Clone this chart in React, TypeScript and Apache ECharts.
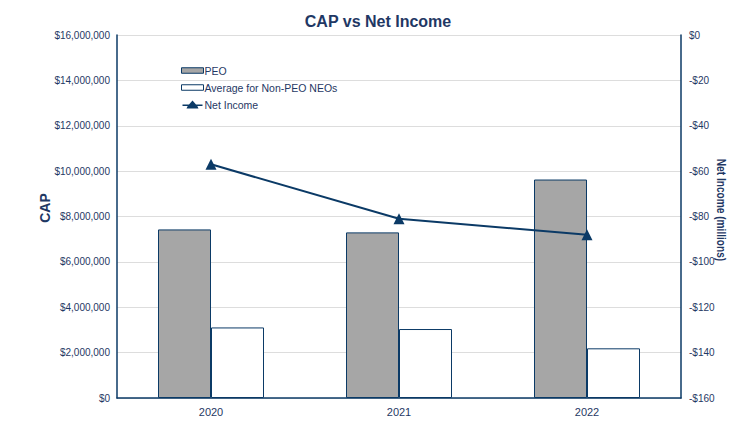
import React, { useEffect, useRef } from "react";
import * as echarts from "echarts";

const years = ["2020", "2021", "2022"];
const peoCap = [7430000, 7300000, 9630000];
const neoCap = [3110000, 3040000, 2190000];
const netIncome = [-57, -81, -88];

const NAVY = "#0B3A66";
const TEXT = "#1F3864";
const FONT = "Liberation Sans, Arial, sans-serif";

export default function App() {
  const ref = useRef<HTMLDivElement>(null);
  useEffect(() => {
    document.body.style.margin = "0";
    const chart = echarts.init(ref.current!, null, { renderer: "svg" });
    chart.setOption({
      animation: false,
      textStyle: { fontFamily: FONT },
      title: {
        text: "CAP vs Net Income",
        left: "center",
        top: 8,
        textStyle: { color: TEXT, fontSize: 16, fontWeight: "bold", fontFamily: FONT },
      },
      graphic: [
        {
          type: "text",
          x: 45,
          y: 208,
          rotation: Math.PI / 2,
          style: {
            text: "CAP",
            fill: TEXT,
            font: "bold 14px " + FONT,
            align: "center",
            verticalAlign: "middle",
          },
        },
        {
          type: "text",
          x: 722,
          y: 210,
          rotation: -Math.PI / 2,
          scaleX: 0.78,
          style: {
            text: "Net Income (millions)",
            fill: TEXT,
            font: "bold 13px " + FONT,
            align: "center",
            verticalAlign: "middle",
          },
        },
      ],
      legend: {
        orient: "vertical",
        left: 176,
        top: 60,
        itemGap: 6,
        itemWidth: 22,
        itemHeight: 8,
        textStyle: { color: TEXT, fontSize: 10.5, fontFamily: FONT, padding: [0, 0, 0, -4] },
        data: [
          {
            name: "PEO",
            icon: "path://M0,1.5 L20,1.5 L20,6.5 L0,6.5 Z",
            itemStyle: { color: "#A6A6A6", borderColor: NAVY, borderWidth: 1 },
          },
          {
            name: "Average for Non-PEO NEOs",
            icon: "path://M0,1.5 L20,1.5 L20,6.5 L0,6.5 Z",
            itemStyle: { color: "#FFFFFF", borderColor: NAVY, borderWidth: 1 },
          },
          {
            name: "Net Income",
            icon: "path://M0,4 L6.5,4 L10,0 L13.5,4 L20,4 L20,5.5 L14.8,5.5 L16,8 L4,8 L5.2,5.5 L0,5.5 Z",
            itemStyle: { color: NAVY, borderWidth: 0 },
          },
        ],
      },
      grid: { left: 117, right: 75, top: 35, bottom: 23 },
      xAxis: {
        type: "category",
        data: years,
        axisLine: { lineStyle: { color: NAVY, width: 1.5 } },
        axisTick: { show: false },
        axisLabel: { color: TEXT, fontSize: 11, margin: 8 },
      },
      yAxis: [
        {
          type: "value",
          min: 0,
          max: 16000000,
          interval: 2000000,
          axisLine: { show: true, lineStyle: { color: NAVY, width: 1.5 } },
          axisTick: { show: false },
          axisLabel: {
            color: TEXT,
            fontSize: 10,
            margin: 7,
            formatter: (v: number) => "$" + v.toLocaleString("en-US"),
          },
          splitLine: { lineStyle: { color: "#DDDDDD", width: 1 } },
        },
        {
          type: "value",
          min: -160,
          max: 0,
          interval: 20,
          axisLine: { show: true, lineStyle: { color: NAVY, width: 1.5 } },
          axisTick: { show: false },
          axisLabel: {
            color: TEXT,
            fontSize: 10,
            margin: 8,
            formatter: (v: number) => (v < 0 ? "-$" + Math.abs(v) : "$" + v),
          },
          splitLine: { show: false },
        },
      ],
      series: [
        {
          name: "PEO",
          type: "bar",
          data: peoCap,
          barWidth: 53,
          barGap: "0%",
          itemStyle: { color: "#A6A6A6", borderColor: NAVY, borderWidth: 1 },
        },
        {
          name: "Average for Non-PEO NEOs",
          type: "bar",
          data: neoCap,
          barWidth: 53,
          barGap: "0%",
          itemStyle: { color: "#FFFFFF", borderColor: NAVY, borderWidth: 1 },
        },
        {
          name: "Net Income",
          type: "line",
          yAxisIndex: 1,
          data: netIncome,
          symbol: "triangle",
          symbolSize: 11,
          lineStyle: { color: NAVY, width: 2 },
          itemStyle: { color: NAVY },
        },
      ],
    });
    return () => chart.dispose();
  }, []);
  return <div ref={ref} style={{ width: 756, height: 421 }} />;
}
